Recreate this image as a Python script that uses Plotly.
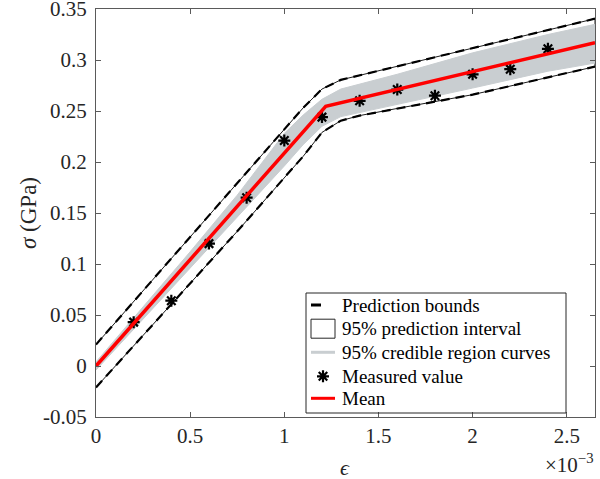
import plotly.graph_objects as go

# ---- data (strain in absolute units, stress in GPa) ----
eps_grid = [0, 0.25e-3, 0.5e-3, 0.75e-3, 1.0e-3, 1.1e-3, 1.2e-3, 1.3e-3, 1.4e-3, 1.6e-3, 2.0e-3, 2.4e-3, 2.65e-3]
pred_upper = [0.021, 0.074, 0.127, 0.180, 0.232, 0.253, 0.2715, 0.2805, 0.285, 0.2935, 0.312, 0.330, 0.3405]
pred_lower = [-0.021, 0.030, 0.081, 0.132, 0.1846, 0.2055, 0.229, 0.2405, 0.2455, 0.2525, 0.266, 0.283, 0.2935]
cred_upper = [0.004, 0.058, 0.112, 0.1675, 0.228, 0.246, 0.2615, 0.2715, 0.2765, 0.286, 0.307, 0.325, 0.335]
cred_lower = [-0.004, 0.046, 0.096, 0.145, 0.196, 0.217, 0.235, 0.2445, 0.2485, 0.256, 0.2725, 0.289, 0.297]

mean_eps = [0, 1.22e-3, 2.65e-3]
mean_sigma = [0, 0.2545, 0.317]

meas_eps = [0.2e-3, 0.4e-3, 0.6e-3, 0.8e-3, 1.0e-3, 1.2e-3, 1.4e-3, 1.6e-3, 1.8e-3, 2.0e-3, 2.2e-3, 2.4e-3]
meas_sigma = [0.043, 0.064, 0.120, 0.165, 0.221, 0.244, 0.260, 0.271, 0.265, 0.286, 0.291, 0.311]

x_tickvals = [0, 0.5e-3, 1.0e-3, 1.5e-3, 2.0e-3, 2.5e-3]
x_ticktext = ["0", "0.5", "1", "1.5", "2", "2.5"]
y_tickvals = [-0.05, 0, 0.05, 0.1, 0.15, 0.2, 0.25, 0.3, 0.35]
y_ticktext = ["-0.05", "0", "0.05", "0.1", "0.15", "0.2", "0.25", "0.3", "0.35"]

legend_labels = ["Prediction bounds", "95% prediction interval", "95% credible region curves",
                 "Measured value", "Mean"]

FONT = "Liberation Serif"
GRAY = "#c9ced1"
RED = "#ff0000"
AXC = "#5a5a5a"
TXT = "#262626"

fig = go.Figure()

# 95% prediction interval patch (white face, thin black edge)
fig.add_trace(go.Scatter(
    x=eps_grid + eps_grid[::-1], y=pred_upper + pred_lower[::-1],
    mode="lines", fill="toself", fillcolor="white",
    line=dict(color="black", width=0.9), hoverinfo="skip"))

# 95% credible region
fig.add_trace(go.Scatter(x=eps_grid, y=cred_upper, mode="lines",
                         line=dict(color=GRAY, width=1)))
fig.add_trace(go.Scatter(x=eps_grid, y=cred_lower, mode="lines", fill="tonexty",
                         fillcolor=GRAY, line=dict(color=GRAY, width=1)))

# Prediction bounds (dashed)
for yb in (pred_upper, pred_lower):
    fig.add_trace(go.Scatter(x=eps_grid, y=yb, mode="lines",
                             line=dict(color="black", width=2.2, dash="9px,6px")))

# Measured values
fig.add_trace(go.Scatter(
    x=meas_eps, y=meas_sigma, mode="markers",
    marker=dict(symbol="asterisk-open", size=10, color="black",
                line=dict(color="black", width=2.2))))

# Mean
fig.add_trace(go.Scatter(x=mean_eps, y=mean_sigma, mode="lines",
                         line=dict(color=RED, width=3.5)))

# ---- legend drawn on an overlay axis whose units are pixels ----
PX_L, PX_R, PX_T, PX_B = 96, 595, 9, 417
row_y = [305, 328.7, 352.3, 376.3, 398.3]
sym_x0, sym_x1 = 311, 335
txt_x = 340

shapes = [
    dict(type="rect", xref="x2", yref="y2", x0=306, x1=566, y0=293, y1=413,
         line=dict(color=TXT, width=1), fillcolor="rgba(0,0,0,0)", layer="above"),
    # prediction bounds: one short thick dash
    dict(type="line", xref="x2", yref="y2", x0=311, x1=321, y0=row_y[0], y1=row_y[0],
         line=dict(color="black", width=3), layer="above"),
    # prediction interval: outlined box
    dict(type="rect", xref="x2", yref="y2", x0=sym_x0, x1=sym_x1, y0=row_y[1] - 9.5, y1=row_y[1] + 9.5,
         line=dict(color=TXT, width=1), fillcolor="rgba(0,0,0,0)", layer="above"),
    # credible region curves: gray line
    dict(type="line", xref="x2", yref="y2", x0=sym_x0, x1=sym_x1, y0=row_y[2], y1=row_y[2],
         line=dict(color=GRAY, width=3), layer="above"),
    # mean: red line
    dict(type="line", xref="x2", yref="y2", x0=sym_x0, x1=sym_x1, y0=row_y[4], y1=row_y[4],
         line=dict(color=RED, width=3), layer="above"),
]

fig.add_trace(go.Scatter(
    x=[(sym_x0 + sym_x1) / 2], y=[row_y[3]], xaxis="x2", yaxis="y2", mode="markers",
    marker=dict(symbol="asterisk-open", size=10, color="black",
                line=dict(color="black", width=2.2)), hoverinfo="skip"))

annotations = []
for lab, yy in zip(legend_labels, row_y):
    annotations.append(dict(text=lab, xref="x2", yref="y2", x=txt_x, y=yy,
                            xanchor="left", yanchor="middle", showarrow=False,
                            font=dict(family=FONT, size=19, color="black")))

annotations += [
    dict(text="<i>σ</i> (GPa)", xref="paper", yref="paper", x=(28 - 96) / 499, y=0.5,
         textangle=-90, showarrow=False, xanchor="center", yanchor="middle",
         font=dict(family=FONT, size=23, color=TXT)),
    dict(text="<i>ϵ</i>", xref="paper", yref="paper", x=(345 - 96) / 499, y=-50 / 408,
         showarrow=False, xanchor="center", yanchor="middle",
         font=dict(family=FONT, size=22, color=TXT)),
    dict(text="×10<sup>−3</sup>", xref="paper", yref="paper", x=1.0, y=-46 / 408,
         showarrow=False, xanchor="right", yanchor="middle",
         font=dict(family=FONT, size=21, color=TXT)),
]

axis_common = dict(
    showgrid=False, zeroline=False, showline=True, linecolor=AXC, linewidth=1,
    mirror="allticks", ticks="inside", ticklen=5, tickcolor=AXC, tickwidth=1,
    tickfont=dict(family=FONT, size=21, color=TXT), ticklabeloverflow="allow",
    automargin=False,
)

fig.update_layout(
    width=600, height=479,
    margin=dict(l=PX_L, r=600 - PX_R, t=PX_T, b=479 - PX_B, autoexpand=False),
    plot_bgcolor="white", paper_bgcolor="white",
    font=dict(family=FONT, size=19, color=TXT),
    showlegend=False,
    xaxis=dict(range=[0, 2.65e-3], tickvals=x_tickvals, ticktext=x_ticktext, **axis_common),
    yaxis=dict(range=[-0.0500001, 0.3500001], tickvals=y_tickvals, ticktext=y_ticktext,
               ticklabelstandoff=4, **axis_common),
    xaxis2=dict(overlaying="x", range=[PX_L, PX_R], visible=False, fixedrange=True),
    yaxis2=dict(overlaying="y", range=[PX_B, PX_T], visible=False, fixedrange=True),
    shapes=shapes,
    annotations=annotations,
)

fig.write_html("out.html")
